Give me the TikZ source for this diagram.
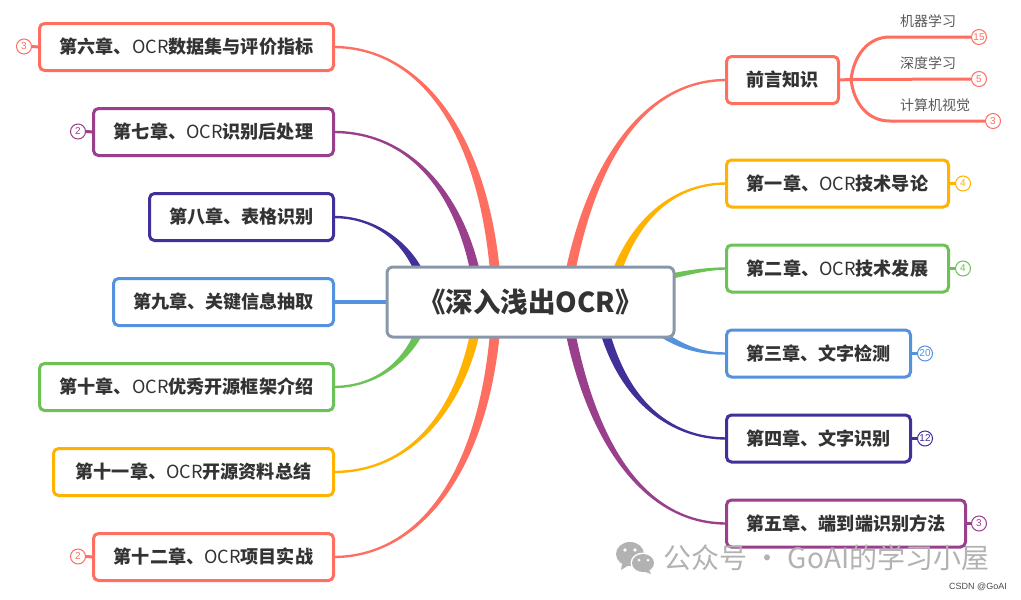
\documentclass[tikz,border=0pt]{standalone}
\usepackage{fontspec}
\setmainfont{Noto Sans CJK SC}
\newfontfamily\latinsans{Liberation Sans}
\usetikzlibrary{calc,backgrounds}
\definecolor{cred}{HTML}{FF6F61}
\definecolor{corange}{HTML}{FFB200}
\definecolor{cgreen}{HTML}{6CC257}
\definecolor{cblue}{HTML}{5592DE}
\definecolor{cindigo}{HTML}{41309A}
\definecolor{cpurple}{HTML}{993F8B}
\definecolor{cslate}{HTML}{8A97AB}
\definecolor{cink}{HTML}{333333}
\definecolor{cwater}{HTML}{B2B2B2}
\newcommand{\ocrword}{{\mdseries OCR}}
% colour, start, control 1, control 2, end, offset at start (x,y)
\newcommand{\taper}[6]{%
  \fill[#1] ($(#2)-(#6)$) .. controls ($(#3)-(#6)$) and ($(#4)-(0,1.2)$) .. ($(#5)-(0,1.2)$)
     -- ($(#5)+(0,1.2)$) .. controls ($(#4)+(0,1.2)$) and ($(#3)+(#6)$) .. ($(#2)+(#6)$) -- cycle;}
\tikzset{
  topic/.style={draw=#1,line width=3pt,fill=white,rounded corners=5pt,outer sep=0pt,inner sep=0pt,
    minimum height=47pt,text=cink,font=\fontsize{18.1}{20}\selectfont\bfseries},
  rootbox/.style={draw=cslate,line width=3pt,fill=white,rounded corners=6pt,outer sep=0pt,inner sep=0pt,
    minimum width=287pt,minimum height=70pt,text=cink,font=\fontsize{27.5}{30}\selectfont\bfseries},
  badge/.style={circle,draw=#1,line width=1pt,fill=white,text=#1,outer sep=0pt,inner sep=0pt,
    minimum size=15pt,font=\latinsans\fontsize{10}{11}\selectfont},
  subtext/.style={text=black!65,inner sep=0pt,font=\fontsize{14}{16}\selectfont},
  stem/.style={draw=#1,line width=3pt},
  subline/.style={draw=cred,line width=3pt},
}
\begin{document}
\begin{tikzpicture}[x=1pt,y=-1pt]
\useasboundingbox (0,0) rectangle (1021,600);
\node[rootbox] (root) at (530.5,302) {《深入浅出OCR》};
% right side
\node[topic=cred,minimum width=112pt] (n0) at (782.5,80) {前言知识};
\node[topic=corange,minimum width=222pt] (n1) at (837.5,183.5) {第一章、\ocrword 技术导论};
\node[topic=cgreen,minimum width=222pt] (n2) at (837.5,268.5) {第二章、\ocrword 技术发展};
\node[topic=cblue,minimum width=184pt] (n3) at (818.5,353.5) {第三章、文字检测};
\node[topic=cindigo,minimum width=184pt] (n4) at (818.5,438.5) {第四章、文字识别};
\node[topic=cpurple,minimum width=239pt] (n5) at (846,523.5) {第五章、端到端识别方法};
% left side
\node[topic=cred,minimum width=294pt] (n6) at (186.5,47) {第六章、\ocrword 数据集与评价指标};
\node[topic=cpurple,minimum width=240pt] (n7) at (213.5,132) {第七章、\ocrword 识别后处理};
\node[topic=cindigo,minimum width=184pt] (n8) at (241.5,217) {第八章、表格识别};
\node[topic=cblue,minimum width=220pt] (n9) at (223.5,302) {第九章、关键信息抽取};
\node[topic=cgreen,minimum width=294pt] (n10) at (186.5,387) {第十章、\ocrword 优秀开源框架介绍};
\node[topic=corange,minimum width=280pt] (n11) at (193.5,472) {第十一章、\ocrword 开源资料总结};
\node[topic=cred,minimum width=240pt] (n12) at (213.5,557) {第十二章、\ocrword 项目实战};
% badges
\node[badge=cred] (b0a) at (979,37) {15};
\node[badge=cred] (b0b) at (979,79) {5};
\node[badge=cred] (b0c) at (993,121) {3};
\node[badge=corange] (b1) at (963,183.5) {4};
\node[badge=cgreen] (b2) at (963,268.5) {4};
\node[badge=cblue] (b3) at (925,353.5) {20};
\node[badge=cindigo] (b4) at (925,438.5) {12};
\node[badge=cpurple] (b5) at (979,523.5) {3};
\node[badge=cred] (b6) at (24,46.5) {3};
\node[badge=cpurple] (b7) at (78,131.5) {2};
\node[badge=cred] (b12) at (78,556.5) {2};
% sub topics
\node[subtext,anchor=west] (s1) at (900,21) {机器学习};
\node[subtext,anchor=west] (s2) at (900,63) {深度学习};
\node[subtext,anchor=west] (s3) at (900,105) {计算机视觉};
\coordinate (fork) at (851,79.5);
\begin{pgfonlayer}{background}
\fill[white] (0,0) rectangle (1021,600);
% right tapered branches
\coordinate (r0) at (565,302);
\taper{cred}{r0}{585,170}{640,80}{n0.west}{5,0}
\coordinate (r1) at (608,302);
\taper{corange}{r1}{625,225}{670,183.5}{n1.west}{5,0}
\coordinate (r2) at (655,280);
\taper{cgreen}{r2}{680,274}{705,268.5}{n2.west}{0,3}
\coordinate (r3) at (650,325);
\taper{cblue}{r3}{680,350}{705,353.5}{n3.west}{-3,2}
\coordinate (r4) at (598,302);
\taper{cindigo}{r4}{615,400}{670,438.5}{n4.west}{-5,0}
\coordinate (r5) at (565,302);
\taper{cpurple}{r5}{585,434}{640,523.5}{n5.west}{-5,0}
% left tapered branches
\coordinate (l6) at (497,302);
\taper{cred}{l6}{490,134}{420,47}{n6.east}{-5,0}
\coordinate (l7) at (480,302);
\taper{cpurple}{l7}{470,210}{420,132}{n7.east}{-5,0}
\coordinate (l8) at (425,290);
\taper{cindigo}{l8}{418,255}{385,217}{n8.east}{-5,0}
\draw[cblue,line width=3.5pt] (n9.east) -- (root.west);
\coordinate (l10) at (425,314);
\taper{cgreen}{l10}{418,349}{385,387}{n10.east}{5,0}
\coordinate (l11) at (480,302);
\taper{corange}{l11}{470,394}{420,472}{n11.east}{5,0}
\coordinate (l12) at (497,302);
\taper{cred}{l12}{490,470}{420,557}{n12.east}{5,0}
% badge stems
\draw[stem=corange] (n1.east) -- (b1.west);
\draw[stem=cgreen] (n2.east) -- (b2.west);
\draw[stem=cblue] (n3.east) -- (b3.west);
\draw[stem=cindigo] (n4.east) -- (b4.west);
\draw[stem=cpurple] (n5.east) -- (b5.west);
\draw[stem=cred] (n6.west) -- (b6.east);
\draw[stem=cpurple] (n7.west) -- (b7.east);
\draw[stem=cred] (n12.west) -- (b12.east);
% sub branches
\draw[subline] (n0.east) -- (fork) -- (b0b.west);
\draw[subline] (fork) .. controls (854,55) and (868,37) .. (890,37) -- (b0a.west);
\draw[subline] (fork) .. controls (854,104) and (868,121) .. (890,121) -- (b0c.west);
\end{pgfonlayer}
% watermark
\fill[cwater] (630,554) ellipse [x radius=14pt,y radius=12pt];
\fill[cwater] (622,564) -- (621,570) -- (629,565) -- cycle;
\fill[white] (643,563) ellipse [x radius=12.5pt,y radius=10.5pt];
\fill[cwater] (643,563) ellipse [x radius=11pt,y radius=9pt];
\fill[cwater] (649,570) -- (651,574) -- (643,571) -- cycle;
\fill[white] (625,550) circle [radius=1.8pt] (635,550) circle [radius=1.8pt]
   (639,560) circle [radius=1.5pt] (648,560) circle [radius=1.5pt];
\node[anchor=west,text=cwater,inner sep=0pt,font=\fontsize{28}{30}\selectfont] (wm) at (663,558) {公众号 · GoAI的学习小屋};
\node[anchor=east,text=black!70,inner sep=0pt,font=\latinsans\fontsize{9}{10}\selectfont] (csdn) at (1007,586.5) {CSDN @GoAI};
\end{tikzpicture}
\end{document}
